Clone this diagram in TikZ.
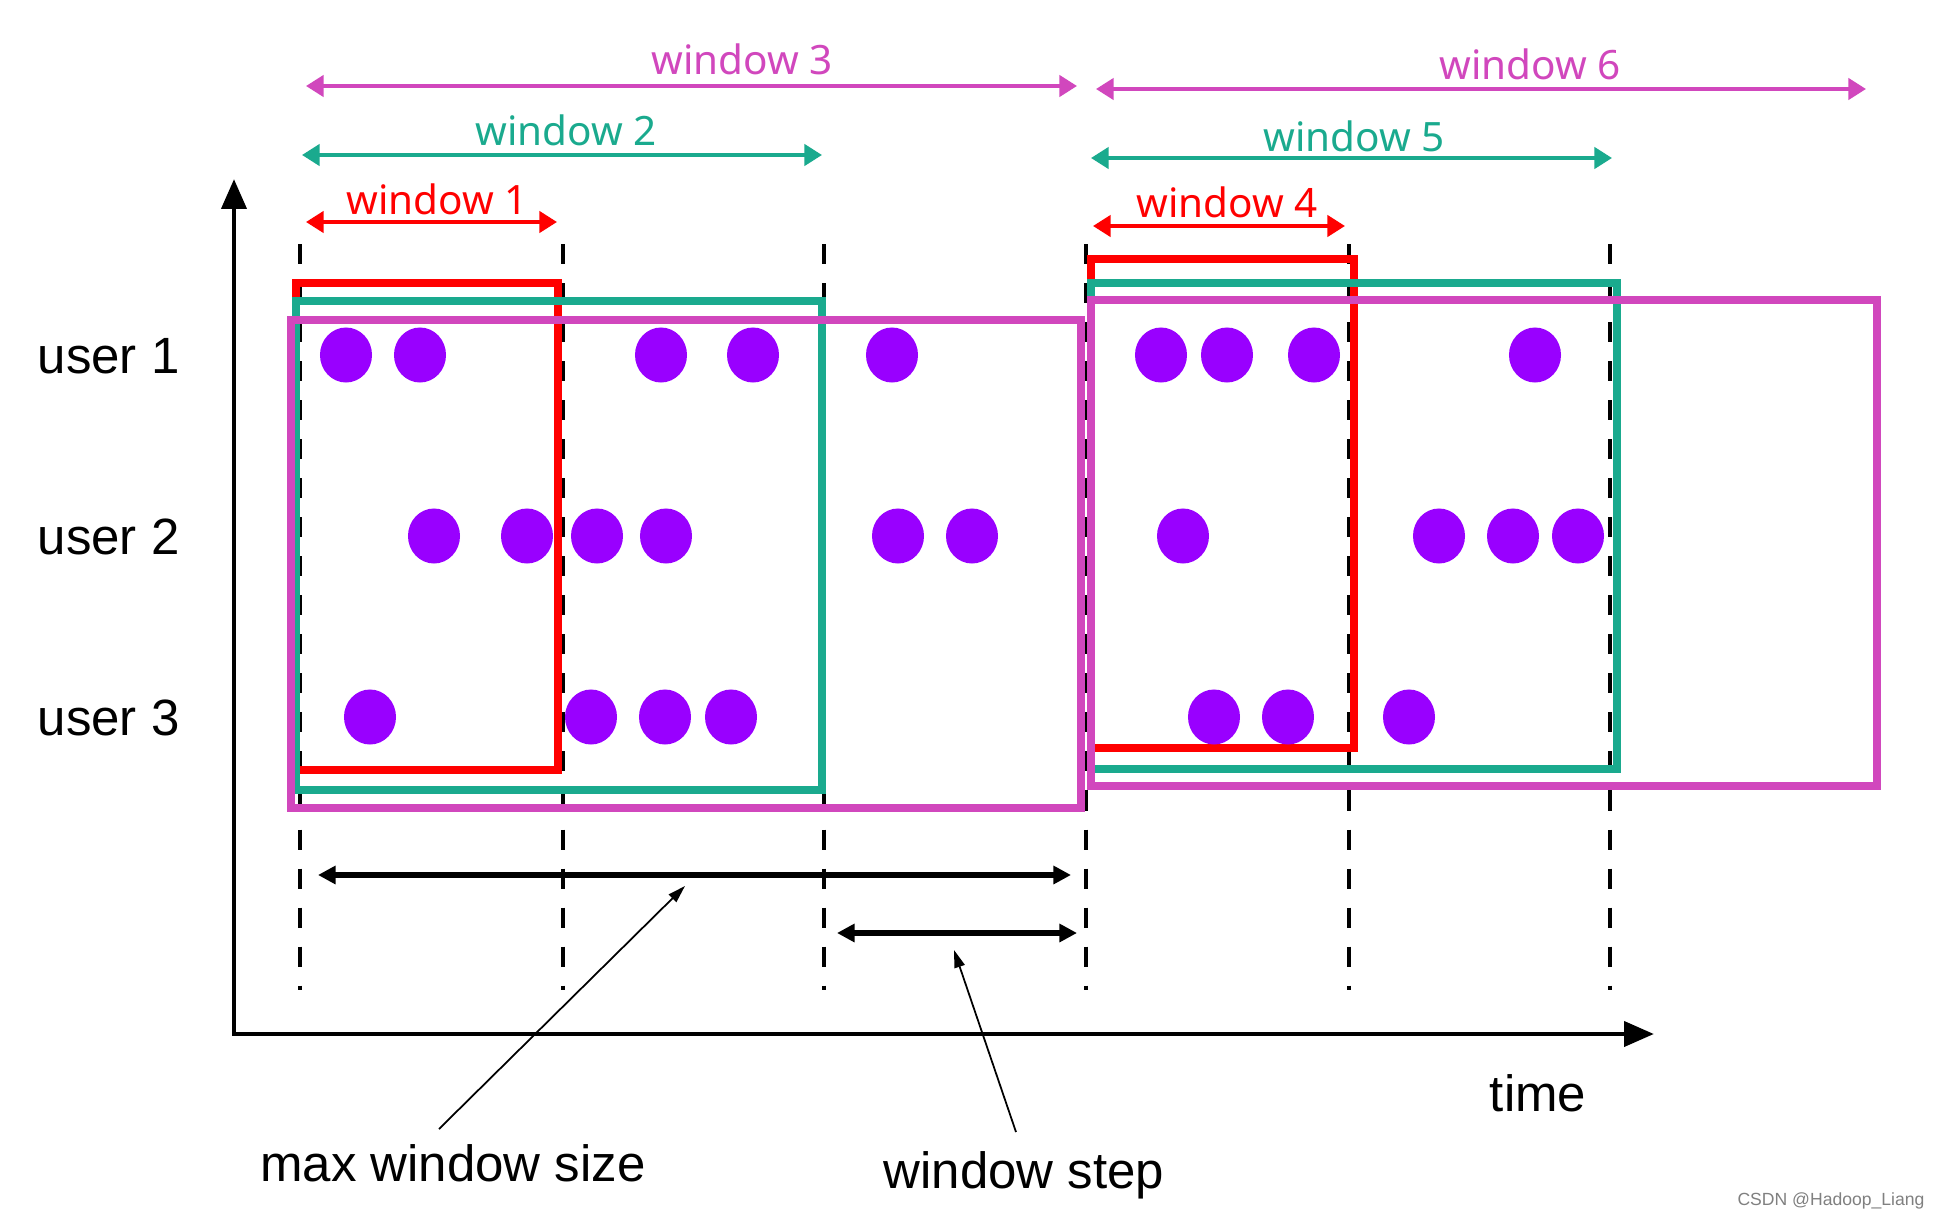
\documentclass[tikz,border=0pt]{standalone}
\usepackage{fontspec}
\setmainfont{Liberation Sans}
\newfontfamily\winfont{Noto Sans}
\usetikzlibrary{arrows.meta,shapes.geometric}
\definecolor{wred}{RGB}{255,0,0}
\definecolor{wteal}{RGB}{26,170,142}
\definecolor{wmag}{RGB}{209,71,189}
\definecolor{dotc}{RGB}{153,0,255}
\begin{document}
\begin{tikzpicture}[x=0.01cm,y=-0.01cm,
  winbox/.style={line width=2.1pt,line join=miter},
  winarrow/.style={line width=1.1pt,{Triangle[length=5pt,width=6pt]}-{Triangle[length=5pt,width=6pt]}},
  blkarrow/.style={line width=1.5pt,{Triangle[length=5pt,width=5pt]}-{Triangle[length=5pt,width=5pt]}},
  pointer/.style={line width=0.5pt,-{Triangle[length=5pt,width=3pt]}},
  axisline/.style={line width=1.4pt,line join=miter,{Triangle[length=8.5pt,width=7pt]}-{Triangle[length=8.5pt,width=7pt]}},
  winlabel/.style={font=\winfont\fontsize{11.5pt}{12pt}\selectfont,anchor=base,inner sep=0},
  lbl/.style={font=\fontsize{14.5pt}{16pt}\selectfont,inner sep=0},
  tick/.style={line width=1.4pt,dash pattern=on 5.7pt off 5.4pt},
  dot/.style={ellipse,fill=dotc,minimum width=0.52cm,minimum height=0.55cm,inner sep=0}]
\useasboundingbox[fill=white] (0,0) rectangle (1935,1221);

% dashed time markers
\foreach \i/\x in {1/300,2/563,3/824,4/1086,5/1349,6/1610}{
  \coordinate (t\i a) at (\x,244);
  \coordinate (t\i b) at (\x,990);
  \draw[tick] (t\i a) -- (t\i b);
}

% window boxes
\draw[winbox,wred] (296,283) rectangle (558,770);
\draw[winbox,wred] (1091,259) rectangle (1354,748);
\draw[winbox,wteal] (296,301) rectangle (822,790);
\draw[winbox,wteal] (1091,283) rectangle (1617,769);
\draw[winbox,wmag] (291,320) rectangle (1081,808);
\draw[winbox,wmag] (1091,300) rectangle (1877,786);

% window arrows and labels
\coordinate (w1a) at (306,222); \coordinate (w1b) at (557,222);
\coordinate (w2a) at (302,155); \coordinate (w2b) at (822,155);
\coordinate (w3a) at (306,86);  \coordinate (w3b) at (1077,86);
\coordinate (w4a) at (1093,226); \coordinate (w4b) at (1345,226);
\coordinate (w5a) at (1091,158); \coordinate (w5b) at (1612,158);
\coordinate (w6a) at (1096,89);  \coordinate (w6b) at (1866,89);
\draw[winarrow,wred] (w1a) -- (w1b);
\draw[winarrow,wteal] (w2a) -- (w2b);
\draw[winarrow,wmag] (w3a) -- (w3b);
\draw[winarrow,wred] (w4a) -- (w4b);
\draw[winarrow,wteal] (w5a) -- (w5b);
\draw[winarrow,wmag] (w6a) -- (w6b);
\node[winlabel,wred] (lw1) at (437,215) {window 1};
\node[winlabel,wteal] (lw2) at (566,146) {window 2};
\node[winlabel,wmag] (lw3) at (742,74) {window 3};
\node[winlabel,wred] (lw4) at (1227,217) {window 4};
\node[winlabel,wteal] (lw5) at (1354,151) {window 5};
\node[winlabel,wmag] (lw6) at (1530,79) {window 6};

% events
\foreach \x [count=\n] in {346,420,661,753,892,1161,1227,1314,1535}
  \node[dot] (ua\n) at (\x,355) {};
\foreach \x [count=\n] in {434,527,597,666,898,972,1183,1439,1513,1578}
  \node[dot] (ub\n) at (\x,536) {};
\foreach \x [count=\n] in {370,591,665,731,1214,1288,1409}
  \node[dot] (uc\n) at (\x,717) {};

% axes
\coordinate (ytip) at (234,179);
\coordinate (origin) at (234,1034);
\coordinate (xtip) at (1654,1034);
\draw[axisline] (ytip) -- (origin) -- (xtip);

% user labels
\node[lbl,anchor=base west] (u1) at (37,373) {user 1};
\node[lbl,anchor=base west] (u2) at (37,554) {user 2};
\node[lbl,anchor=base west] (u3) at (37,735) {user 3};

% size / step arrows
\coordinate (sa) at (318,875); \coordinate (sb) at (1071,875);
\coordinate (pa) at (837,933); \coordinate (pb) at (1077,933);
\draw[blkarrow] (sa) -- (sb);
\draw[blkarrow] (pa) -- (pb);

\node[lbl,anchor=base] (maxws) at (453,1181) {max window size};
\node[lbl,anchor=base] (wstep) at (1024,1188) {window step};
\node[lbl,anchor=base] (time) at (1538,1111) {time};

\coordinate (m1) at (439,1129); \coordinate (m2) at (685,886);
\coordinate (s1) at (1016,1132); \coordinate (s2) at (954,950);
\draw[pointer] (m1) -- (m2);
\draw[pointer] (s1) -- (s2);

\node[font=\fontsize{5pt}{6pt}\selectfont,text=gray,inner sep=0] (wm) at (1831,1201) {CSDN @Hadoop\_Liang};
\end{tikzpicture}
\end{document}
